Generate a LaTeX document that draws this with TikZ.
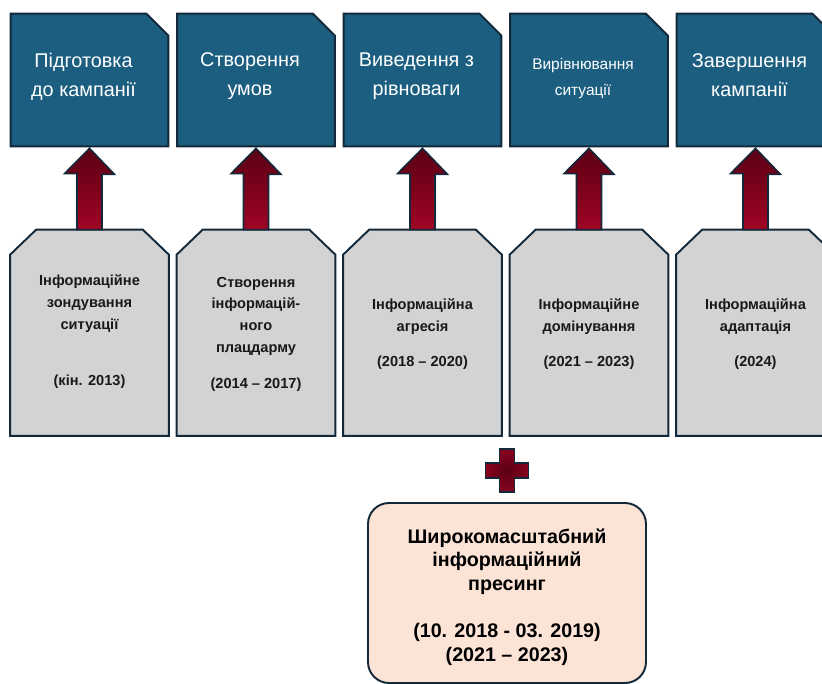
\documentclass[tikz,border=0pt]{standalone}
\usepackage{fontspec}
\setmainfont{Liberation Sans}

\definecolor{stageblue}{HTML}{1B5E80}
\definecolor{edgenavy}{HTML}{13293A}
\definecolor{phasegray}{HTML}{D3D3D3}
\definecolor{arrowdark}{HTML}{5A0014}
\definecolor{arrowred}{HTML}{A00424}
\definecolor{pressfill}{HTML}{FBE3D6}

\tikzset{
  stage/.style={rectangle, minimum width=3.14cm, minimum height=2.64cm, inner sep=0pt},
  phase/.style={rectangle, minimum width=3.16cm, minimum height=4.11cm, inner sep=0pt},
  stageshape/.style={fill=stageblue, draw=edgenavy, line width=1.1pt},
  phaseshape/.style={fill=phasegray, draw=edgenavy, line width=1.1pt},
  stagetext/.style={anchor=north, inner sep=0pt, align=center, text=white,
    font=\fontsize{11.3}{16.3}\selectfont},
  phasetext/.style={anchor=north, inner sep=0pt, align=center, text=black!90,
    font=\fontsize{8.3}{12.3}\selectfont\bfseries},
  liftarrow/.style={draw=edgenavy, line width=0.9pt, top color=arrowdark, bottom color=arrowred},
  press/.style={rectangle, rounded corners=0.42cm, minimum width=5.56cm, minimum height=3.6cm,
    fill=pressfill, draw=edgenavy, line width=1.1pt},
}

\begin{document}
\begin{tikzpicture}
\useasboundingbox (0,0) rectangle (16.44,-13.68);
\clip (0,0) rectangle (16.44,-13.68);

% stages on top, phases below
\foreach \i in {1,...,5} {
  \node[stage] (b\i) at ({1.79 + 3.33*(\i-1)}, -1.6) {};
  \node[phase] (g\i) at ({1.79 + 3.33*(\i-1)}, -6.655) {};
  \draw[stageshape] (b\i.south west) -- (b\i.north west) -- ([xshift=-0.44cm]b\i.north east)
    -- ([yshift=-0.44cm]b\i.north east) -- (b\i.south east) -- cycle;
  \draw[phaseshape] (g\i.south west) -- ([yshift=-0.5cm]g\i.north west) -- ([xshift=0.52cm]g\i.north west)
    -- ([xshift=-0.52cm]g\i.north east) -- ([yshift=-0.5cm]g\i.north east) -- (g\i.south east) -- cycle;
}

% arrows from each phase up to its stage
\foreach \i in {1,...,5}
  \draw[liftarrow] ([xshift=-0.25cm]g\i.north) -- ++(0,1.12) -- ++(-0.25,0)
    -- ([yshift=-0.04cm]b\i.south) -- ++(0.5,-0.52) -- ++(-0.25,0)
    -- ([xshift=0.25cm]g\i.north) -- cycle;

\node[press] (pres) at (10.14, -11.86) {};
\coordinate (plus) at ([yshift=0.63cm]pres.north);
\draw[draw=edgenavy, line width=0.9pt, inner color=arrowdark, outer color=arrowred!85!black]
  (plus) ++(-0.15,0.43) -- ++(0.3,0) -- ++(0,-0.28) -- ++(0.28,0) -- ++(0,-0.3)
  -- ++(-0.28,0) -- ++(0,-0.28) -- ++(-0.3,0) -- ++(0,0.28) -- ++(-0.28,0)
  -- ++(0,0.3) -- ++(0.28,0) -- cycle;

% labels
\node[stagetext] (s1) at ([xshift=-0.12cm, yshift=-0.78cm]b1.north) {Підготовка\\до кампанії};
\node[stagetext] (s2) at ([xshift=-0.12cm, yshift=-0.78cm]b2.north) {Створення\\умов};
\node[stagetext] (s3) at ([xshift=-0.12cm, yshift=-0.78cm]b3.north) {Виведення з\\рівноваги};
\node[stagetext, font=\fontsize{8.8}{14.7}\selectfont] (s4) at ([xshift=-0.12cm, yshift=-0.88cm]b4.north) {Вирівнювання\\ситуації};
\node[stagetext] (s5) at ([xshift=-0.12cm, yshift=-0.8cm]b5.north) {Завершення\\кампанії};

\node[phasetext] (p1) at ([yshift=-0.9cm]g1.north) {Інформаційне\\зондування\\ситуації\\[19.8pt](кін. 2013)};
\node[phasetext] (p2) at ([yshift=-0.94cm]g2.north) {Створення\\інформацій-\\ного\\плацдарму\\[8.5pt](2014 – 2017)};
\node[phasetext] (p3) at ([yshift=-1.38cm]g3.north) {Інформаційна\\агресія\\[7.4pt](2018 – 2020)};
\node[phasetext] (p4) at ([yshift=-1.38cm]g4.north) {Інформаційне\\домінування\\[7.4pt](2021 – 2023)};
\node[phasetext] (p5) at ([yshift=-1.38cm]g5.north) {Інформаційна\\адаптація\\[7.4pt](2024)};

\node[anchor=north, inner sep=0pt, align=center, font=\fontsize{11.2}{13.6}\selectfont\bfseries]
  (prtext) at ([yshift=-0.52cm]pres.north)
  {Широкомасштабний\\інформаційний\\пресинг\\[13pt](10. 2018 - 03. 2019)\\(2021 – 2023)};
\end{tikzpicture}
\end{document}
